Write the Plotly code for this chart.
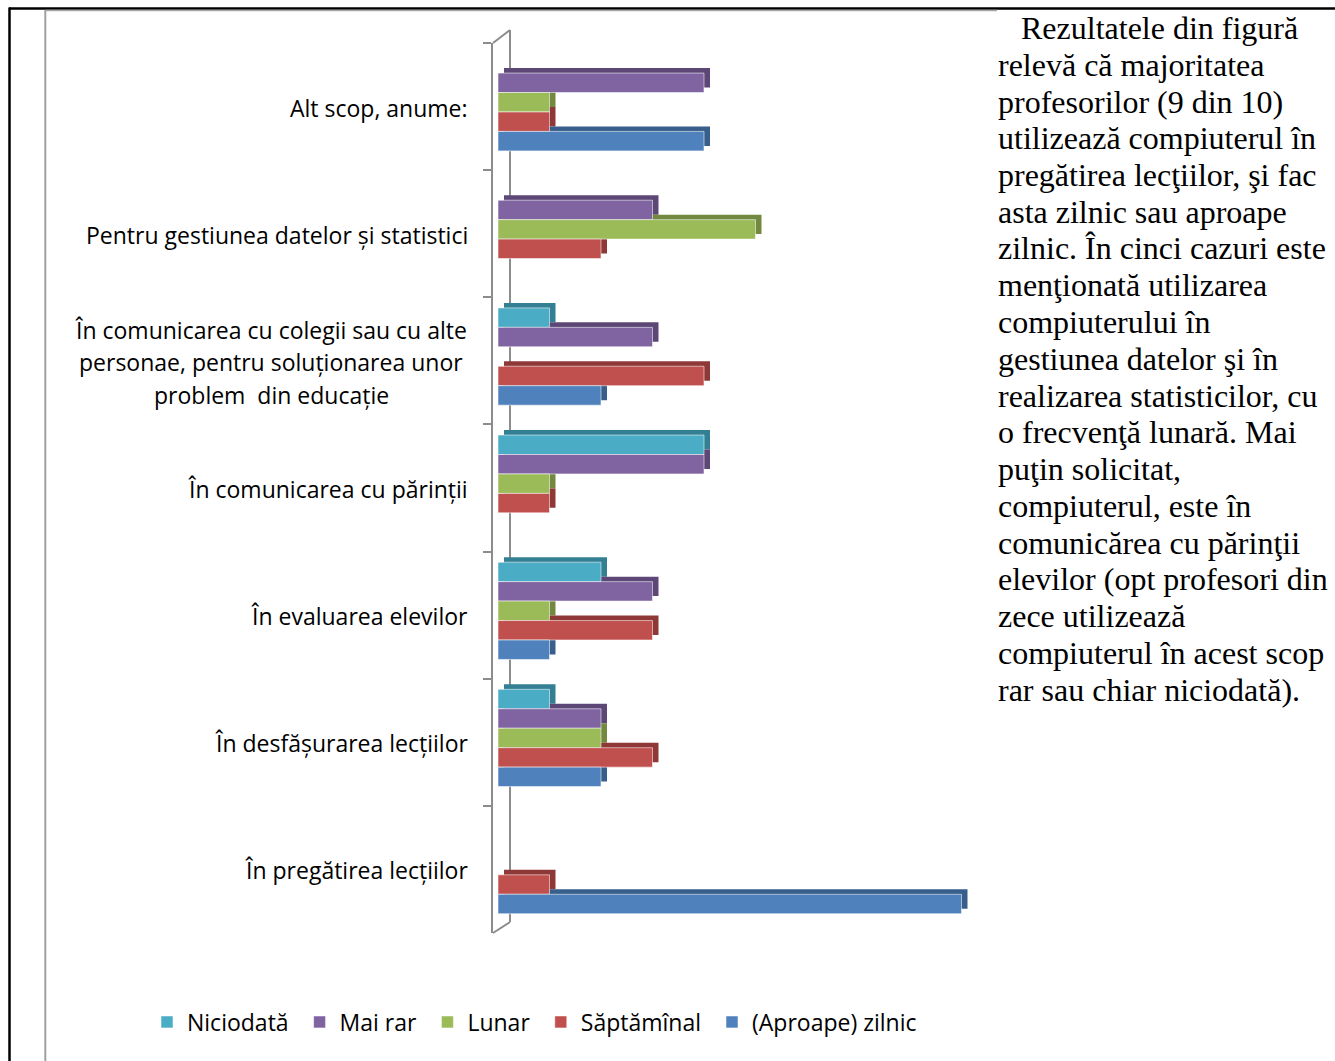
import plotly.graph_objects as go

# Purposes of computer use (top to bottom) and answer counts per frequency
category_lines = [
    ["Alt scop, anume:"],
    ["Pentru gestiunea datelor și statistici"],
    ["În comunicarea cu colegii sau cu alte",
     "personae, pentru soluționarea unor",
     "problem\u00a0 din educație"],
    ["În comunicarea cu părinții"],
    ["În evaluarea elevilor"],
    ["În desfășurarea lecțiilor"],
    ["În pregătirea lecțiilor"],
]
categories = [" ".join(lines) for lines in category_lines]

series_names = ["Niciodată", "Mai rar", "Lunar", "Săptămînal", "(Aproape) zilnic"]
niciodata = [0, 0, 1, 4, 2, 1, 0]
mai_rar = [4, 3, 3, 4, 3, 2, 0]
lunar = [1, 5, 0, 1, 1, 2, 0]
saptamanal = [1, 2, 4, 1, 3, 3, 1]
zilnic = [4, 0, 2, 0, 1, 2, 9]
series_values = [niciodata, mai_rar, lunar, saptamanal, zilnic]

front_colors = ["#4BACC6", "#8064A2", "#9BBB59", "#C0504D", "#4F81BD"]
depth_colors = ["#337F93", "#5C4777", "#72893F", "#8E3937", "#385E8C"]

body_lines = [
    "Rezultatele din figură",
    "relevă că majoritatea",
    "profesorilor (9 din 10)",
    "utilizează compiuterul în",
    "pregătirea lecţiilor, şi fac",
    "asta zilnic sau aproape",
    "zilnic. În cinci cazuri este",
    "menţionată utilizarea",
    "compiuterului în",
    "gestiunea datelor şi în",
    "realizarea statisticilor, cu",
    "o frecvenţă lunară. Mai",
    "puţin solicitat,",
    "compiuterul, este în",
    "comunicărea cu părinţii",
    "elevilor (opt profesori din",
    "zece utilizează",
    "compiuterul în acest scop",
    "rar sau chiar niciodată).",
]

# Page geometry (pixels) and plot-area box
W, H = 1335, 1061
L, R, T, B = 493, 993, 43, 933
ZERO_PX, UNIT_PX = 498, 51.5
CAT_PX = (B - T) / len(categories)


def px_x(px):
    return (px - L) / (R - L)


def px_y(py):
    return (B - py) / (B - T)


SANS = "Open Sans"
SERIF = "Liberation Serif"
AXIS_GREY = "#8C8C8C"

bar_w = 0.153
group_start = -0.4165
depth_dx = 6 / UNIT_PX
depth_dy = 5 / CAT_PX

fig = go.Figure()

# Darker shifted copies give each bar its top and side faces
for i, (name, vals) in enumerate(zip(series_names, series_values)):
    fig.add_trace(go.Bar(
        y=categories, x=vals, orientation="h", name=name,
        base=depth_dx, width=bar_w, offset=group_start + i * bar_w - depth_dy,
        marker=dict(color=depth_colors[i], line=dict(width=0)),
        showlegend=False, hoverinfo="skip",
    ))

for i, (name, vals) in enumerate(zip(series_names, series_values)):
    fig.add_trace(go.Bar(
        y=categories, x=vals, orientation="h",
        name=name + "\u00a0",  # a little extra room between legend entries
        width=bar_w, offset=group_start + i * bar_w,
        marker=dict(color=front_colors[i],
                    line=dict(color="rgba(255,255,255,0.55)", width=1)),
    ))

annotations = []
# Category labels, centred line by line
for idx, lines in enumerate(category_lines):
    n = len(lines)
    for j, line in enumerate(lines):
        if n == 1:
            annotations.append(dict(
                x=px_x(470), xref="paper", y=idx, yref="y", text=line,
                xanchor="right", yanchor="middle", showarrow=False,
                yshift=-1,
                font=dict(family=SANS, size=23, color="#000000")))
        else:
            annotations.append(dict(
                x=px_x(271), xref="paper", y=idx, yref="y", text=line,
                xanchor="center", yanchor="middle", showarrow=False,
                yshift=-(j - (n - 1) / 2) * 32.5 - 1.5,
                font=dict(family=SANS, size=23, color="#000000")))

# Running text beside the chart
for k, line in enumerate(body_lines):
    annotations.append(dict(
        x=px_x(1019 if k == 0 else 996), xref="paper",
        y=px_y(28 + k * 36.75), yref="paper", text=line,
        xanchor="left", yanchor="middle", showarrow=False,
        font=dict(family=SERIF, size=32, color="#000000")))

shapes = [
    # page frame
    dict(type="line", xref="paper", yref="paper", x0=px_x(9), x1=px_x(W), y0=px_y(8.5), y1=px_y(8.5),
         line=dict(color="#000000", width=2.5)),
    dict(type="line", xref="paper", yref="paper", x0=px_x(9.5), x1=px_x(9.5), y0=px_y(7.5), y1=px_y(H),
         line=dict(color="#000000", width=2.5)),
    # chart frame
    dict(type="line", xref="paper", yref="paper", x0=px_x(45), x1=px_x(997), y0=px_y(10.5), y1=px_y(10.5),
         line=dict(color="#A6A6A6", width=1.5)),
    dict(type="line", xref="paper", yref="paper", x0=px_x(45.3), x1=px_x(45.3), y0=px_y(10), y1=px_y(H),
         line=dict(color="#A0A0A0", width=2)),
    # back wall of the category axis
    dict(type="line", xref="paper", yref="paper", x0=px_x(510), x1=px_x(510), y0=px_y(30), y1=px_y(922),
         line=dict(color=AXIS_GREY, width=2), layer="below"),
    dict(type="line", xref="paper", yref="paper", x0=px_x(493), x1=px_x(510), y0=px_y(43), y1=px_y(30),
         line=dict(color=AXIS_GREY, width=2), layer="below"),
    dict(type="line", xref="paper", yref="paper", x0=px_x(493), x1=px_x(510), y0=px_y(933), y1=px_y(922),
         line=dict(color=AXIS_GREY, width=2), layer="below"),
]

fig.update_layout(
    width=W, height=H, autosize=False,
    margin=dict(l=L, r=W - R, t=T, b=H - B, pad=0),
    paper_bgcolor="#FFFFFF", plot_bgcolor="rgba(0,0,0,0)",
    barmode="overlay",
    font=dict(family=SANS, size=23, color="#000000"),
    xaxis=dict(visible=False,
               range=[(L - ZERO_PX) / UNIT_PX, (R - ZERO_PX) / UNIT_PX]),
    yaxis=dict(type="category", range=[len(categories) - 0.5, -0.5],
               showgrid=False, zeroline=False, showline=True,
               linecolor=AXIS_GREY, linewidth=2,
               ticks="outside", ticklen=8, tickwidth=2, tickcolor=AXIS_GREY,
               tickson="boundaries", showticklabels=False),
    legend=dict(orientation="h", x=px_x(147), y=px_y(1022),
                xanchor="left", yanchor="middle",
                font=dict(family=SANS, size=23, color="#000000"),
                bgcolor="rgba(0,0,0,0)", itemwidth=30),
    annotations=annotations,
    shapes=shapes,
    showlegend=True,
)

fig.write_html("out.html")
